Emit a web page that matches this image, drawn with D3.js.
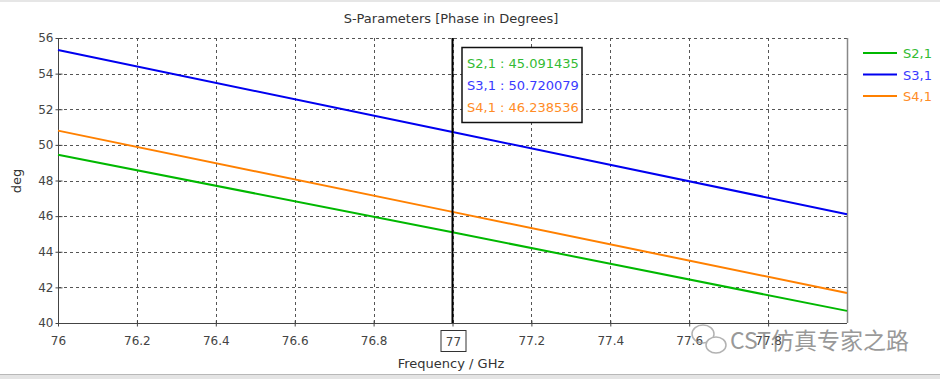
<!DOCTYPE html>
<html><head><meta charset="utf-8">
<script src="https://cdn.jsdelivr.net/npm/d3@7"></script>
<style>body{margin:0;background:#fff}svg{display:block}</style>
</head><body>
<svg id="c" width="940" height="379"></svg>
<script>
const freqs = [76, 77, 78];
const s21 = [49.45, 45.091435, 40.68];
const s31 = [55.33, 50.720079, 46.11];
const s41 = [50.80, 46.238536, 41.68];
const seriesNames = ["S2,1", "S3,1", "S4,1"];
const xTicks = [76, 76.2, 76.4, 76.6, 76.8, 77, 77.2, 77.4, 77.6, 77.8];
const yTicks = [40, 42, 44, 46, 48, 50, 52, 54, 56];
const markerFreq = 77;
const markerVals = ["45.091435", "50.720079", "46.238536"];

const lineColors = ["#00b800", "#0000f0", "#ff8000"];
const textColors = ["#33bb33", "#3a3aff", "#ff8c26"];
const font = "Tahoma, 'DejaVu Sans', Verdana, sans-serif";

const svg = d3.select("#c");
const L = 58, R = 847, T = 38, B = 323;
const x = d3.scaleLinear().domain([76, 78]).range([L, R]);
const y = d3.scaleLinear().domain([40, 56]).range([B, T]);

// frame bands
svg.append("rect").attr("x",0).attr("y",0).attr("width",940).attr("height",2).attr("fill","#e6e6e6");
svg.append("rect").attr("x",0).attr("y",375).attr("width",940).attr("height",4).attr("fill","#e4e4e4");
svg.append("line").attr("x1",0).attr("x2",940).attr("y1",374.5).attr("y2",374.5).attr("stroke","#b8b8b8");

// title
svg.append("text").attr("x",451).attr("y",23).attr("text-anchor","middle")
  .attr("font-family",font).attr("font-size",13).attr("fill","#333").text("S-Parameters [Phase in Degrees]");

// grid
const g = svg.append("g");
g.selectAll(".vg").data(xTicks.filter(d=>d>76)).enter().append("line")
  .attr("x1",d=>Math.round(x(d))+0.5).attr("x2",d=>Math.round(x(d))+0.5).attr("y1",T).attr("y2",B)
  .attr("stroke","#555").attr("stroke-dasharray","3,3");
g.selectAll(".hg").data(yTicks.filter(d=>d>40)).enter().append("line")
  .attr("x1",L).attr("x2",R).attr("y1",d=>Math.round(y(d))+0.5).attr("y2",d=>Math.round(y(d))+0.5)
  .attr("stroke","#555").attr("stroke-dasharray","3,3");

// right border
svg.append("line").attr("x1",R+0.5).attr("x2",R+0.5).attr("y1",T).attr("y2",B).attr("stroke","#888").attr("stroke-width",1.5);

// axes
const xAxis = d3.axisBottom(x).tickValues(xTicks).tickSize(3).tickFormat(d=>d===markerFreq?"":d3.format("")(d));
const yAxis = d3.axisLeft(y).tickValues(yTicks).tickSize(4);
const gx = svg.append("g").attr("transform",`translate(0,${B+0.5})`).call(xAxis);
const gy = svg.append("g").attr("transform",`translate(${L+0.5},0)`).call(yAxis);
[gx,gy].forEach(a=>{
  a.select(".domain").attr("stroke","#444");
  a.selectAll(".tick line").attr("stroke","#444");
  a.selectAll("text").attr("font-family",font).attr("font-size",12).attr("fill","#444");
});
gx.selectAll(".tick line").attr("y1",-3);
gx.selectAll("text").attr("dy","1.3em");
gy.selectAll(".tick line").attr("x1",4).attr("x2",-3);
gy.selectAll("text").attr("x",-5);
gx.select(".domain").attr("d",`M${L},0H${R}`);
gy.select(".domain").attr("d",`M0,${T}V${B}`);

// series lines
const data = [s21, s31, s41];
const line = d3.line().x((d,i)=>x(freqs[i])).y(d=>y(d));
svg.selectAll(".ser").data(data).enter().append("path")
  .attr("d",d=>line(d)).attr("fill","none").attr("stroke",(d,i)=>lineColors[i]).attr("stroke-width",2);

// marker line
svg.append("line").attr("x1",x(markerFreq)).attr("x2",x(markerFreq)).attr("y1",T).attr("y2",B)
  .attr("stroke","#000").attr("stroke-width",2);
// marker label box
svg.append("rect").attr("x",x(markerFreq)-11.5).attr("y",330.5).attr("width",25).attr("height",21)
  .attr("fill","#fff").attr("stroke","#333");
svg.append("text").attr("x",x(markerFreq)+1).attr("y",346).attr("text-anchor","middle")
  .attr("font-family",font).attr("font-size",12).attr("fill","#444").text(markerFreq);

// annotation box
const bx = x(markerFreq)+9.5, by = 47.5;
svg.append("rect").attr("x",bx).attr("y",by).attr("width",120).attr("height",75)
  .attr("fill","#fff").attr("stroke","#111").attr("stroke-width",1.5);
svg.selectAll(".ann").data(seriesNames).enter().append("text")
  .attr("x",bx+5).attr("y",(d,i)=>by+20+i*22)
  .attr("font-family",font).attr("font-size",13).attr("fill",(d,i)=>textColors[i])
  .text((d,i)=>`${d} : ${markerVals[i]}`);

// legend
const lg = svg.append("g");
seriesNames.forEach((n,i)=>{
  const yy = 53 + i*21.5;
  lg.append("line").attr("x1",863).attr("x2",897).attr("y1",yy).attr("y2",yy).attr("stroke",lineColors[i]).attr("stroke-width",2);
  lg.append("text").attr("x",903).attr("y",yy+5).attr("font-family",font).attr("font-size",13)
    .attr("fill",textColors[i]).text(n);
});

// axis labels
svg.append("text").attr("x",451).attr("y",368).attr("text-anchor","middle")
  .attr("font-family",font).attr("font-size",13).attr("fill","#333").text("Frequency / GHz");
svg.append("text").attr("transform","translate(21,181) rotate(-90)").attr("text-anchor","middle")
  .attr("font-family",font).attr("font-size",13).attr("fill","#333").text("deg");

// watermark
const wm = svg.append("g").attr("opacity",0.75);
wm.append("ellipse").attr("cx",703).attr("cy",334).attr("rx",11).attr("ry",9).attr("fill","none").attr("stroke","#999").attr("stroke-width",1.5);
wm.append("ellipse").attr("cx",716).attr("cy",345).attr("rx",10).attr("ry",8).attr("fill","#fff").attr("stroke","#999").attr("stroke-width",1.5);
wm.append("text").attr("x",730).attr("y",349).attr("font-family","'Noto Sans CJK SC', sans-serif")
  .attr("font-size",23).attr("fill","#777").text("CST仿真专家之路");
</script>
</body></html>
